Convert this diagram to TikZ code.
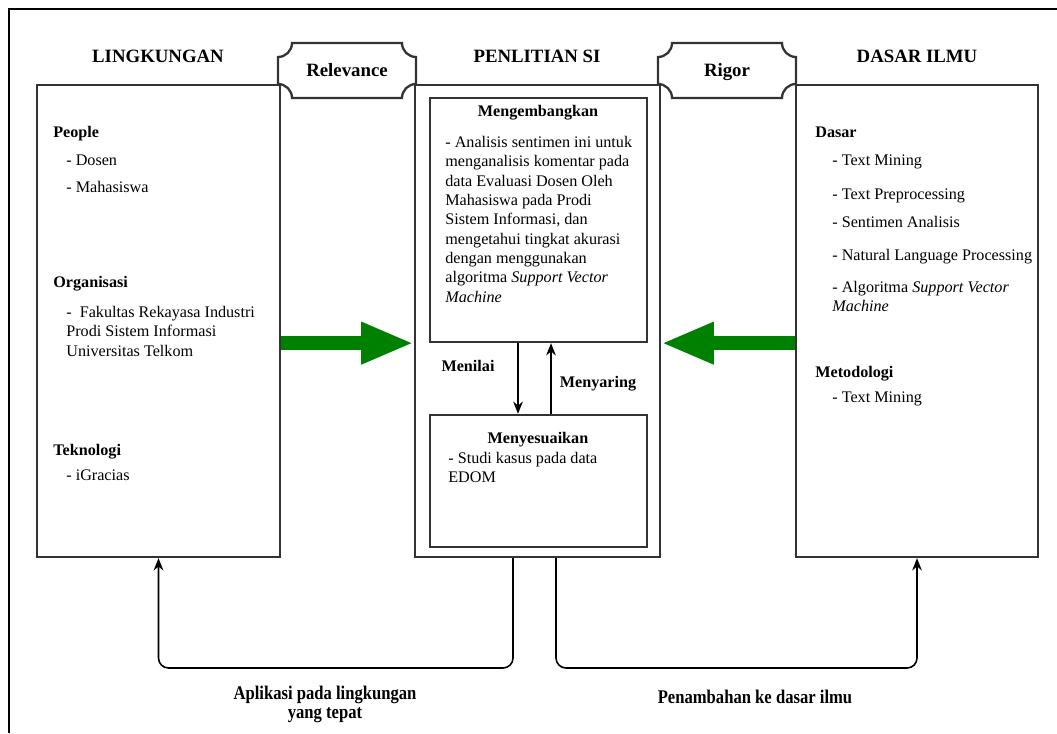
\documentclass[tikz,border=0pt]{standalone}
\usepackage{fontspec}
\setmainfont{Liberation Serif}
\usepackage{graphicx}
\usetikzlibrary{fit}
\usetikzlibrary{calc}
\usetikzlibrary{arrows.meta}
\definecolor{arrowgreen}{RGB}{0,128,0}
\newcommand\slimtext[1]{\scalebox{0.86}[1]{#1}}
% plaque shaped label sitting on top of the boxes
\newcommand\plaque[3]{%
  \node[minimum width=2.76cm, minimum height=1.1cm, inner sep=0pt, outer sep=0pt] (#1) at (#2) {};
  \draw[draw=black!80, line width=1.3pt, fill=white] ($(#1.north west)+(14,0)$) -- ($(#1.north east)+(-14,0)$)
    .. controls ($(#1.north east)+(-14,7.7)$) and ($(#1.north east)+(-7.7,14)$) .. ($(#1.north east)+(0,14)$)
    -- ($(#1.south east)+(0,-14)$)
    .. controls ($(#1.south east)+(-7.7,-14)$) and ($(#1.south east)+(-14,-7.7)$) .. ($(#1.south east)+(-14,0)$)
    -- ($(#1.south west)+(14,0)$)
    .. controls ($(#1.south west)+(14,-7.7)$) and ($(#1.south west)+(7.7,-14)$) .. ($(#1.south west)+(0,-14)$)
    -- ($(#1.north west)+(0,14)$)
    .. controls ($(#1.north west)+(7.7,14)$) and ($(#1.north west)+(14,7.7)$) .. ($(#1.north west)+(14,0)$) -- cycle;
  \node[head, anchor=base] (#1-text) at ($(#1)+(0,6.5)$) {#3};
}

\begin{document}
\begin{tikzpicture}[x=0.02cm, y=-0.02cm,
    box/.style={draw=black!80, line width=1.3pt, inner sep=0pt},
    head/.style={font=\rmfamily\fontsize{10.7}{13}\selectfont\bfseries},
    sub/.style={font=\rmfamily\fontsize{9.2}{11}\selectfont\bfseries, anchor=base west, inner sep=0pt},
    item/.style={font=\rmfamily\fontsize{9.2}{11}\selectfont, anchor=base west, inner sep=0pt},
    txt/.style={font=\rmfamily\fontsize{9.2}{11}\selectfont, align=left, anchor=north west, inner sep=0pt},
    lbl/.style={font=\rmfamily\fontsize{11}{10.8}\selectfont\bfseries, align=center, inner sep=0pt},
    flow/.style={-{Stealth[length=7pt,width=5.5pt]}, line width=0.9pt},
    bigarrow/.style={line width=8pt, arrowgreen, -{Triangle[length=30pt,width=22pt]}}]

    \useasboundingbox (0,0) rectangle (1057,733);
    \draw[line width=1.5pt] (9,733) -- (9,9) -- (1057,9);

    % the three columns
    \coordinate (lk1) at (37,85);  \coordinate (lk2) at (280,557);
    \coordinate (pn1) at (415,85); \coordinate (pn2) at (660,557);
    \coordinate (ds1) at (796,85); \coordinate (ds2) at (1038,557);
    \node[box, fit=(lk1)(lk2)] (lingkungan) {};
    \node[box, fit=(pn1)(pn2)] (penelitian) {};
    \node[box, fit=(ds1)(ds2)] (dasar) {};

    % inner boxes
    \coordinate (kb1) at (430,98);  \coordinate (kb2) at (647,342);
    \coordinate (ss1) at (430,415); \coordinate (ss2) at (647,547);
    \node[box, fit=(kb1)(kb2)] (kembang) {};
    \node[box, fit=(ss1)(ss2)] (sesuai) {};

    \node[head, anchor=base] (lingkungan-title) at (158,63) {LINGKUNGAN};
    \node[head, anchor=base] (penelitian-title) at (537,63) {PENLITIAN SI};
    \node[head, anchor=base] (dasar-title) at (917,63) {DASAR ILMU};

    \plaque{relevance}{347,70.5}{Relevance}
    \plaque{rigor}{727,70.5}{Rigor}

    % left column
    \node[sub] (people) at (53,138) {People};
    \node[item] (dosen) at (66,166) {- Dosen};
    \node[item] (mahasiswa) at (66,193) {- Mahasiswa};
    \node[sub] (organisasi) at (53,287) {Organisasi};
    \node[txt] (fakultas) at (66,306) {-\ \ Fakultas Rekayasa Industri\\Prodi Sistem Informasi\\Universitas Telkom};
    \node[sub] (teknologi) at (53,455) {Teknologi};
    \node[item] (igracias) at (66,480) {- iGracias};

    % middle column
    \node[sub, anchor=base] (kembang-title) at (538,117) {Mengembangkan};
    \node[txt] (kembang-text) at (445,136) {- Analisis sentimen ini untuk\\menganalisis komentar pada\\data Evaluasi Dosen Oleh\\Mahasiswa pada Prodi\\Sistem Informasi, dan\\mengetahui tingkat akurasi\\dengan menggunakan\\algoritma \textit{Support Vector}\\\textit{Machine}};
    \node[sub, anchor=base] (sesuai-title) at (538,443) {Menyesuaikan};
    \node[txt] (sesuai-text) at (448,452) {- Studi kasus pada data\\EDOM};

    % right column
    \node[sub] (dasar-sub) at (815,138) {Dasar};
    \node[item] (textmining) at (832,166) {- Text Mining};
    \node[item] (preprocessing) at (832,199) {- Text Preprocessing};
    \node[item] (sentimen) at (832,227) {- Sentimen Analisis};
    \node[item] (nlp) at (832,260) {- Natural Language Processing};
    \node[txt] (svm) at (832,281) {- Algoritma \textit{Support Vector}\\\textit{Machine}};
    \node[sub] (metodologi) at (815,377) {Metodologi};
    \node[item] (textmining2) at (832,402) {- Text Mining};

    % green arrows
    \draw[bigarrow] (lingkungan.east |- kembang.south) -- (penelitian.west |- kembang.south);
    \draw[bigarrow] (dasar.west |- kembang.south) -- (penelitian.east |- kembang.south);

    % menilai / menyaring
    \draw[flow] ([xshift=-0.41cm]kembang.south) -- ([xshift=-0.41cm]sesuai.north);
    \draw[flow] ([xshift=0.25cm]sesuai.north) -- ([xshift=0.25cm]kembang.south);
    \node[sub, anchor=base] (menilai) at (468,371) {Menilai};
    \node[sub, anchor=base] (menyaring) at (598,387) {Menyaring};

    % feedback loops
    \coordinate (loop) at (0,668);
    \draw[flow, rounded corners=0.2cm] ([xshift=-0.49cm]penelitian.south) |- (lingkungan.south |- loop) -- (lingkungan.south);
    \draw[flow, rounded corners=0.2cm] ([xshift=0.37cm]penelitian.south) |- (dasar.south |- loop) -- (dasar.south);
    \node[lbl] (aplikasi) at (325,704) {\slimtext{Aplikasi pada lingkungan}\\\slimtext{yang tepat}};
    \node[lbl] (penambahan) at (755,697) {\slimtext{Penambahan ke dasar ilmu}};
\end{tikzpicture}
\end{document}
